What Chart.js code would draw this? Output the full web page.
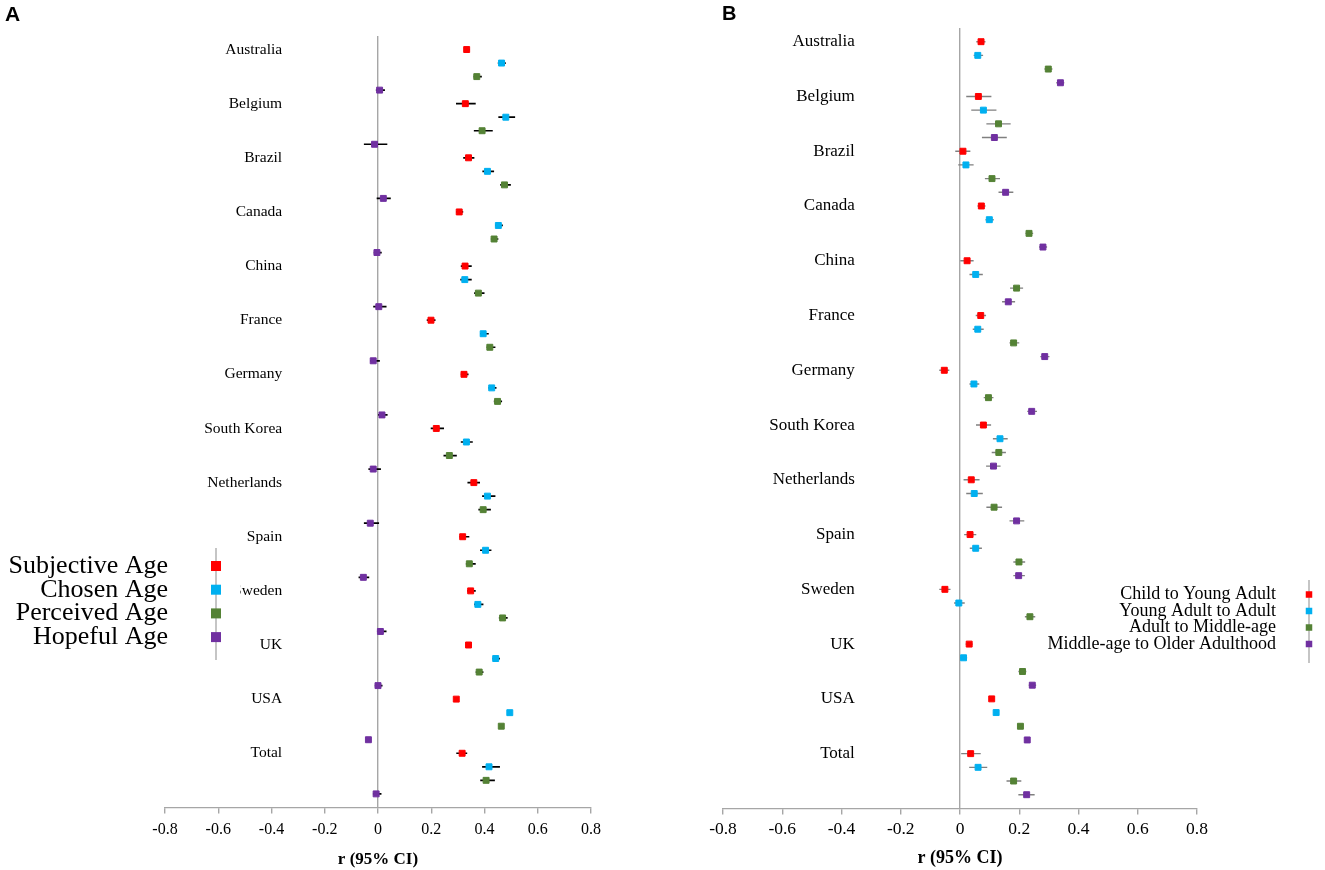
<!DOCTYPE html>
<html>
<head>
<meta charset="utf-8">
<title>Forest plot A / B</title>
<script src="https://cdn.jsdelivr.net/npm/chart.js@4.4.0/dist/chart.umd.min.js"></script>
<style>
  html, body { margin: 0; padding: 0; background: #fff; }
  #wrap { position: relative; width: 1325px; height: 870px; overflow: hidden; }
  .panel { position: absolute; top: 0; height: 870px; }
  #panelA { left: 0; width: 662px; }
  #panelB { left: 662px; width: 663px; }
</style>
</head>
<body>
<div id="wrap">
  <div class="panel" id="panelA"><canvas id="chartA" width="662" height="870"></canvas></div>
  <div class="panel" id="panelB"><canvas id="chartB" width="663" height="870"></canvas></div>
</div>
<script>
const FONT_SERIF = "'Liberation Serif', 'Times New Roman', serif";
const FONT_SANS = "'Liberation Sans', Arial, sans-serif";

const countries = ["Australia", "Belgium", "Brazil", "Canada", "China", "France", "Germany",
  "South Korea", "Netherlands", "Spain", "Sweden", "UK", "USA", "Total"];

const xTickValues = [-0.8, -0.6, -0.4, -0.2, 0, 0.2, 0.4, 0.6, 0.8];
const xTickLabels = ["-0.8", "-0.6", "-0.4", "-0.2", "0", "0.2", "0.4", "0.6", "0.8"];

// colores de las series (rojo, azul, verde, morado)
const seriesColors = ["#ff0000", "#00b0f0", "#548235", "#7030a0"];

// ---- Panel A ----
const seriesNamesA = ["Subjective Age", "Chosen Age", "Perceived Age", "Hopeful Age"];

const subjectiveR  = [0.333, 0.328, 0.340, 0.305, 0.327, 0.199, 0.323, 0.219, 0.360, 0.318, 0.348, 0.340, 0.294, 0.316];
const subjectiveLo = [0.323, 0.293, 0.320, 0.293, 0.311, 0.183, 0.311, 0.198, 0.336, 0.306, 0.335, 0.330, 0.288, 0.294];
const subjectiveHi = [0.345, 0.367, 0.362, 0.320, 0.352, 0.216, 0.340, 0.248, 0.383, 0.343, 0.367, 0.352, 0.300, 0.335];

const chosenR  = [0.464, 0.480, 0.411, 0.452, 0.326, 0.395, 0.427, 0.332, 0.411, 0.404, 0.375, 0.442, 0.495, 0.417];
const chosenLo = [0.450, 0.452, 0.392, 0.440, 0.309, 0.383, 0.415, 0.311, 0.391, 0.383, 0.361, 0.430, 0.489, 0.391];
const chosenHi = [0.480, 0.515, 0.436, 0.469, 0.352, 0.416, 0.445, 0.356, 0.441, 0.426, 0.396, 0.458, 0.501, 0.458];

const perceivedR  = [0.371, 0.391, 0.475, 0.436, 0.377, 0.420, 0.449, 0.268, 0.395, 0.343, 0.468, 0.380, 0.463, 0.406];
const perceivedLo = [0.359, 0.360, 0.459, 0.424, 0.361, 0.408, 0.435, 0.246, 0.377, 0.330, 0.454, 0.367, 0.457, 0.384];
const perceivedHi = [0.390, 0.431, 0.499, 0.452, 0.400, 0.441, 0.466, 0.296, 0.424, 0.367, 0.487, 0.396, 0.469, 0.439];

const hopefulR  = [0.006, -0.013, 0.020, -0.004, 0.003, -0.018, 0.015, -0.018, -0.029, -0.055, 0.009, 0.000, -0.036, -0.007];
const hopefulLo = [-0.008, -0.053, -0.005, -0.016, -0.018, -0.030, 0.000, -0.036, -0.053, -0.073, -0.004, -0.012, -0.043, -0.019];
const hopefulHi = [0.026, 0.035, 0.048, 0.014, 0.032, 0.007, 0.036, 0.011, 0.004, -0.033, 0.032, 0.017, -0.028, 0.013];

// ---- Panel B ----
const seriesNamesB = ["Child to Young Adult", "Young Adult to Adult", "Adult to Middle-age", "Middle-age to Older Adulthood"];

const childYoungR  = [0.071, 0.062, 0.010, 0.072, 0.024, 0.070, -0.053, 0.079, 0.038, 0.034, -0.051, 0.031, 0.107, 0.036];
const childYoungLo = [0.055, 0.021, -0.016, 0.059, 0.001, 0.053, -0.070, 0.054, 0.012, 0.014, -0.070, 0.019, 0.099, 0.004];
const childYoungHi = [0.086, 0.106, 0.035, 0.086, 0.046, 0.088, -0.036, 0.105, 0.066, 0.055, -0.032, 0.043, 0.115, 0.070];

const youngAdultR  = [0.060, 0.079, 0.020, 0.099, 0.053, 0.060, 0.047, 0.135, 0.048, 0.053, -0.004, 0.012, 0.122, 0.061];
const youngAdultLo = [0.046, 0.038, -0.006, 0.086, 0.032, 0.043, 0.032, 0.111, 0.021, 0.033, -0.020, 0.000, 0.114, 0.031];
const youngAdultHi = [0.078, 0.123, 0.046, 0.114, 0.077, 0.080, 0.065, 0.161, 0.077, 0.074, 0.016, 0.024, 0.130, 0.092];

const adultMiddleR  = [0.298, 0.130, 0.108, 0.233, 0.191, 0.181, 0.096, 0.131, 0.115, 0.199, 0.236, 0.211, 0.204, 0.181];
const adultMiddleLo = [0.285, 0.089, 0.084, 0.221, 0.169, 0.167, 0.080, 0.107, 0.089, 0.180, 0.219, 0.197, 0.196, 0.157];
const adultMiddleHi = [0.312, 0.171, 0.135, 0.247, 0.213, 0.200, 0.113, 0.155, 0.142, 0.220, 0.254, 0.224, 0.212, 0.207];

// Sweden sin dato en la última serie
const middleOlderR  = [0.339, 0.116, 0.154, 0.280, 0.163, 0.286, 0.242, 0.113, 0.191, 0.198, null, 0.244, 0.227, 0.225];
const middleOlderLo = [0.325, 0.074, 0.130, 0.267, 0.142, 0.271, 0.227, 0.088, 0.167, 0.180, null, 0.232, 0.219, 0.197];
const middleOlderHi = [0.352, 0.158, 0.180, 0.294, 0.186, 0.302, 0.260, 0.137, 0.217, 0.219, null, 0.257, 0.235, 0.252];

const GAP = { x: null, y: null };
const rowOf = (i, s) => i * 4 + s;

function forestDecor(style) {
  return {
    id: "forestDecor",
    afterDraw(chart) {
      const { ctx } = chart;
      const xs = chart.scales.x;
      const ys = chart.scales.y;
      ctx.save();

      // etiquetas de país, alineadas con la primera serie de cada grupo
      ctx.font = `${style.labelSize}px ${FONT_SERIF}`;
      ctx.fillStyle = "#000";
      ctx.textAlign = "right";
      ctx.textBaseline = "middle";
      const labelX = xs.getPixelForValue(style.labelEdge);
      countries.forEach((name, i) => ctx.fillText(name, labelX, ys.getPixelForValue(rowOf(i, 0))));

      // leyenda: texto a la izquierda, marcador a la derecha
      const lg = style.legend;
      if (lg.cover) {
        ctx.fillStyle = "#fff";
        ctx.fillRect(lg.cover[0], lg.cover[1], lg.cover[2], lg.cover[3]);
      }
      ctx.strokeStyle = "#a6a6a6";
      ctx.lineWidth = 1.3;
      ctx.beginPath();
      ctx.moveTo(lg.markerX, lg.lineTop);
      ctx.lineTo(lg.markerX, lg.lineBottom);
      ctx.stroke();
      ctx.font = `${lg.fontSize}px ${FONT_SERIF}`;
      ctx.textAlign = "right";
      ctx.textBaseline = "middle";
      chart.data.datasets.slice(0, 4).forEach((ds, k) => {
        const yy = lg.top + k * lg.gap;
        ctx.fillStyle = "#000";
        ctx.fillText(ds.label, lg.textRight, yy);
        ctx.fillStyle = ds.backgroundColor;
        ctx.fillRect(lg.markerX - lg.box / 2, yy - lg.box / 2, lg.box, lg.box);
      });

      ctx.font = `bold ${style.letterSize}px ${FONT_SANS}`;
      ctx.textAlign = "left";
      ctx.textBaseline = "alphabetic";
      ctx.fillStyle = "#000";
      ctx.fillText(style.letter, style.letterX, style.letterY);
      ctx.restore();
    },
  };
}

function renderForest(canvas, names, est, lo, hi, style) {
  const datasets = names.map((name, s) => ({
    label: name,
    data: est[s].map((v, i) => (v === null ? GAP : { x: v, y: rowOf(i, s) })),
    pointStyle: "rect",
    pointRadius: 4.2,
    pointBorderWidth: 1,
    backgroundColor: seriesColors[s],
    borderColor: seriesColors[s],
    showLine: false,
  }));

  // intervalos de confianza: segmentos cortados con huecos
  const ciData = [];
  names.forEach((_, s) => {
    lo[s].forEach((l, i) => {
      if (l === null) return;
      ciData.push({ x: l, y: rowOf(i, s) }, { x: hi[s][i], y: rowOf(i, s) }, GAP);
    });
  });
  datasets.push({
    label: "95% CI",
    data: ciData,
    showLine: true,
    spanGaps: false,
    borderColor: style.ciColor,
    borderWidth: style.ciWidth,
    borderCapStyle: "butt",
    pointRadius: 0,
  });

  return new Chart(canvas, {
    type: "scatter",
    data: { datasets },
    options: {
      responsive: false,
      animation: false,
      devicePixelRatio: 1,
      layout: { padding: style.padding },
      plugins: { legend: { display: false }, tooltip: { enabled: false } },
      scales: {
        x: {
          type: "linear",
          min: -0.8,
          max: 0.8,
          afterBuildTicks: (axis) => { axis.ticks = xTickValues.map((v) => ({ value: v })); },
          ticks: {
            autoSkip: false,
            maxRotation: 0,
            color: "#000",
            padding: style.tickPadding,
            font: { family: FONT_SERIF, size: style.tickSize },
            callback: (v, idx) => xTickLabels[idx],
          },
          grid: {
            color: (c) => (c.tick && Math.abs(c.tick.value) < 1e-9 ? "#a6a6a6" : "rgba(0,0,0,0)"),
            lineWidth: 1.4,
            tickColor: "#a6a6a6",
            tickLength: 6,
            drawOnChartArea: true,
          },
          border: { color: "#a6a6a6", width: 1.3 },
          title: {
            display: true,
            text: "r (95% CI)",
            color: "#000",
            padding: { top: style.titlePad, bottom: 0 },
            font: { family: FONT_SERIF, size: style.titleSize, weight: "bold" },
          },
        },
        y: { type: "linear", min: -1, max: 56, reverse: true, display: false },
      },
    },
    plugins: [forestDecor(style)],
  });
}

renderForest(
  document.getElementById("chartA"),
  seriesNamesA,
  [subjectiveR, chosenR, perceivedR, hopefulR],
  [subjectiveLo, chosenLo, perceivedLo, hopefulLo],
  [subjectiveHi, chosenHi, perceivedHi, hopefulHi],
  {
    padding: { left: 165, right: 71, top: 36, bottom: 0 },
    tickSize: 16, tickPadding: 7, titleSize: 17, titlePad: 3,
    labelSize: 15.5, labelEdge: -0.36,
    ciColor: "#000", ciWidth: 1.7,
    letter: "A", letterSize: 21, letterX: 5, letterY: 21,
    legend: {
      fontSize: 26, textRight: 168, markerX: 216, top: 566, gap: 23.7, box: 10,
      lineTop: 548, lineBottom: 660, cover: [0, 545, 240, 120],
    },
  }
);

renderForest(
  document.getElementById("chartB"),
  seriesNamesB,
  [childYoungR, youngAdultR, adultMiddleR, middleOlderR],
  [childYoungLo, youngAdultLo, adultMiddleLo, middleOlderLo],
  [childYoungHi, youngAdultHi, adultMiddleHi, middleOlderHi],
  {
    padding: { left: 61, right: 128, top: 28, bottom: 1 },
    tickSize: 17.5, tickPadding: 5, titleSize: 18, titlePad: 2,
    labelSize: 17, labelEdge: -0.355,
    ciColor: "#808080", ciWidth: 1.4,
    letter: "B", letterSize: 20, letterX: 60, letterY: 20,
    legend: {
      fontSize: 18, textRight: 614, markerX: 647, top: 594.5, gap: 16.5, box: 6.5,
      lineTop: 580, lineBottom: 663, cover: null,
    },
  }
);
</script>
</body>
</html>
